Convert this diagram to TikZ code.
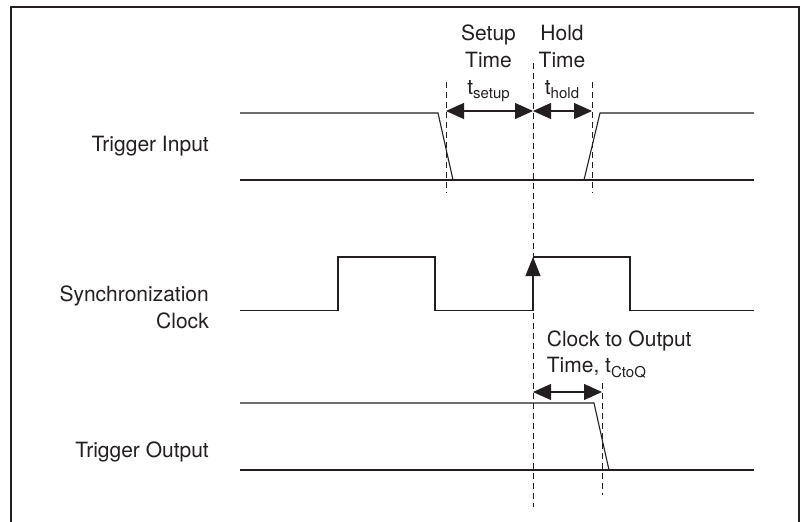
\documentclass[tikz,border=0pt]{standalone}
\usepackage{fontspec}
\setmainfont{TeX Gyre Heros}
\usetikzlibrary{arrows.meta}
\definecolor{timingink}{RGB}{35,31,32}
\newcommand\tsub[1]{t\raisebox{-4.5pt}{\fontsize{15}{15}\selectfont #1}}

\begin{document}
\begin{tikzpicture}[yscale=-1
,frame/.style={color=timingink,line width=2pt}
,wave/.style={color=timingink,line width=1.1pt}
,guide/.style={color=timingink,line width=1pt,dash pattern=on 6pt off 4pt}
,dim/.style={color=timingink,line width=1.1pt,{Triangle[length=18pt,width=16pt]}-{Triangle[length=18pt,width=16pt]}}
,lbl/.style={color=timingink,inner sep=0,font=\fontsize{21}{26.6}\selectfont}
]
\useasboundingbox (0pt,0pt) rectangle (801pt,522pt);
\draw[frame] (11pt,530pt) -- (11pt,6.5pt) -- (799pt,6.5pt) -- (799pt,530pt);
% labels (base = last line)
\node (in) at (209pt,151.5pt)[anchor=base east,lbl]{Trigger Input};
\node (sync) at (209pt,328pt)[anchor=base east,lbl,align=right]{Synchronization\\Clock};
\node (out) at (209pt,457pt)[anchor=base east,lbl]{Trigger Output};
\node (setup) at (488.5pt,94pt)[anchor=base,lbl,align=center]{Setup\\Time\\\tsub{setup}};
\node (hold) at (562pt,94pt)[anchor=base,lbl,align=center]{Hold\\Time\\\tsub{hold}};
\node (ctoq) at (546.7pt,372.7pt)[anchor=base west,lbl,align=left]{Clock to Output\\Time, \tsub{CtoQ}};
% trigger input
\draw[wave] (240pt,113pt) -- (438pt,113pt) -- (453pt,180pt);
\draw[wave] (240pt,180pt) -- (754pt,180pt);
\draw[wave] (584pt,180pt) -- (600pt,113pt) -- (754pt,113pt);
% synchronization clock
\coordinate (edge lo) at (533pt,310.5pt);
\coordinate (edge hi) at (533pt,257pt);
\draw[wave] (240pt,310.5pt) -- (338pt,310.5pt) -- (338pt,257pt) -- (435pt,257pt) -- (435pt,310.5pt) -- (edge lo);
\draw[wave,-{Triangle[length=19pt,width=15pt]}] (edge lo) -- (edge hi);
\draw[wave] (edge hi) -- (630pt,257pt) -- (630pt,310.5pt) -- (754pt,310.5pt);
% trigger output
\draw[wave] (240pt,403pt) -- (594pt,403pt) -- (609pt,470pt);
\draw[wave] (240pt,470pt) -- (754pt,470pt);
% guides
\draw[guide] (446pt,82pt) -- (446pt,193pt);
\draw[guide] (533pt,63pt) -- (533pt,507pt);
\draw[guide] (592pt,82pt) -- (592pt,193pt);
\draw[guide] (602pt,383pt) -- (602pt,495pt);
% intervals
\coordinate (su) at (446pt,111pt);
\coordinate (clk) at (533pt,111pt);
\coordinate (ho) at (592pt,111pt);
\coordinate (q0) at (533pt,392pt);
\coordinate (q1) at (602pt,392pt);
\draw[dim] (su) -- (clk);
\draw[dim] (clk) -- (ho);
\draw[dim] (q0) -- (q1);
\end{tikzpicture}
\end{document}
